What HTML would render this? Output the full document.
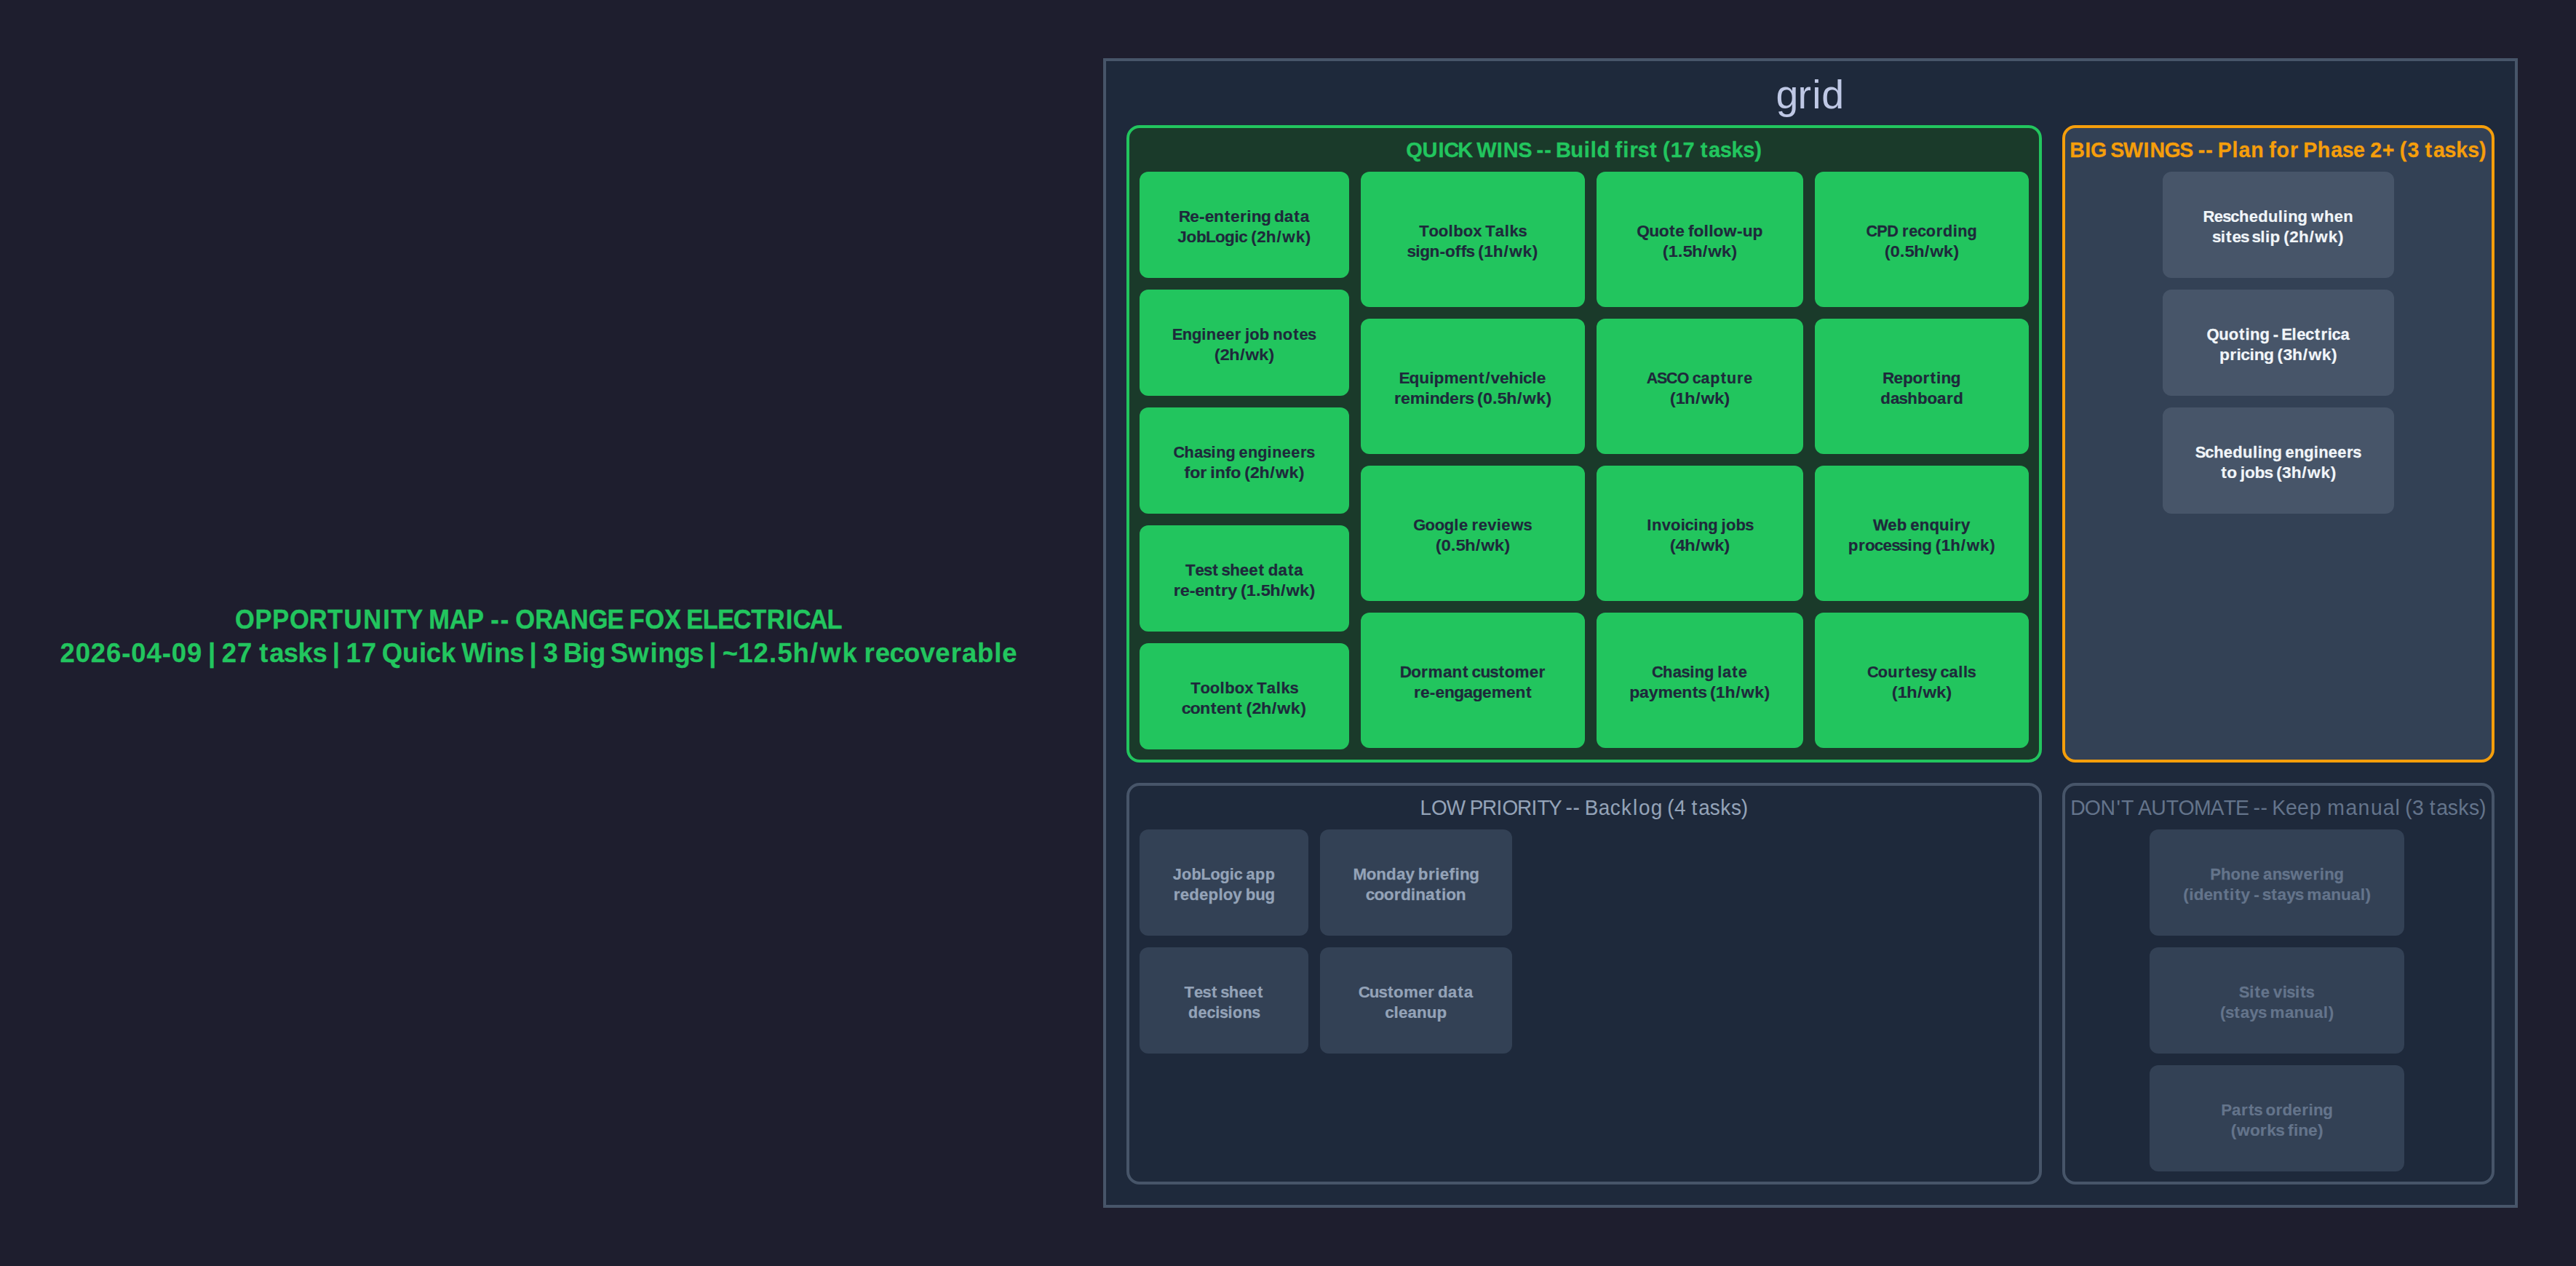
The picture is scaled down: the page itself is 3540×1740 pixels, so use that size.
<!DOCTYPE html>
<html><head><meta charset="utf-8"><title>Opportunity Map</title>
<style>
html,body{margin:0;padding:0;background:#1e1e2e;}
body{width:3540px;height:1740px;overflow:hidden;}
svg{display:block;}
text{font-family:"Liberation Sans", sans-serif;text-anchor:middle;font-kerning:none;}
</style></head><body>
<svg width="3540" height="1740" viewBox="0 0 3540 1740">
<rect x="0" y="0" width="3540" height="1740" fill="#1e1e2e"/>
<rect x="1518" y="82" width="1940" height="1576" fill="#1e293b" stroke="#475569" stroke-width="4"/>
<rect x="1550" y="174" width="1254" height="872" rx="16" ry="16" fill="#1a3a2a" stroke="#22c55e" stroke-width="4"/>
<rect x="1566" y="236" width="288" height="146" rx="12" ry="12" fill="#22c55e"/>
<rect x="1566" y="398" width="288" height="146" rx="12" ry="12" fill="#22c55e"/>
<rect x="1566" y="560" width="288" height="146" rx="12" ry="12" fill="#22c55e"/>
<rect x="1566" y="722" width="288" height="146" rx="12" ry="12" fill="#22c55e"/>
<rect x="1566" y="884" width="288" height="146" rx="12" ry="12" fill="#22c55e"/>
<rect x="1870" y="236" width="308" height="186" rx="12" ry="12" fill="#22c55e"/>
<rect x="1870" y="438" width="308" height="186" rx="12" ry="12" fill="#22c55e"/>
<rect x="1870" y="640" width="308" height="186" rx="12" ry="12" fill="#22c55e"/>
<rect x="1870" y="842" width="308" height="186" rx="12" ry="12" fill="#22c55e"/>
<rect x="2194" y="236" width="284" height="186" rx="12" ry="12" fill="#22c55e"/>
<rect x="2194" y="438" width="284" height="186" rx="12" ry="12" fill="#22c55e"/>
<rect x="2194" y="640" width="284" height="186" rx="12" ry="12" fill="#22c55e"/>
<rect x="2194" y="842" width="284" height="186" rx="12" ry="12" fill="#22c55e"/>
<rect x="2494" y="236" width="294" height="186" rx="12" ry="12" fill="#22c55e"/>
<rect x="2494" y="438" width="294" height="186" rx="12" ry="12" fill="#22c55e"/>
<rect x="2494" y="640" width="294" height="186" rx="12" ry="12" fill="#22c55e"/>
<rect x="2494" y="842" width="294" height="186" rx="12" ry="12" fill="#22c55e"/>
<rect x="2836" y="174" width="590" height="872" rx="16" ry="16" fill="#334155" stroke="#f59e0b" stroke-width="4"/>
<rect x="2972" y="236" width="318" height="146" rx="12" ry="12" fill="#475569"/>
<rect x="2972" y="398" width="318" height="146" rx="12" ry="12" fill="#475569"/>
<rect x="2972" y="560" width="318" height="146" rx="12" ry="12" fill="#475569"/>
<rect x="1550" y="1078" width="1254" height="548" rx="16" ry="16" fill="#1e293b" stroke="#475569" stroke-width="4"/>
<rect x="1566" y="1140" width="232" height="146" rx="12" ry="12" fill="#334155"/>
<rect x="1814" y="1140" width="264" height="146" rx="12" ry="12" fill="#334155"/>
<rect x="1566" y="1302" width="232" height="146" rx="12" ry="12" fill="#334155"/>
<rect x="1814" y="1302" width="264" height="146" rx="12" ry="12" fill="#334155"/>
<rect x="2836" y="1078" width="590" height="548" rx="16" ry="16" fill="#1e293b" stroke="#475569" stroke-width="4"/>
<rect x="2954" y="1140" width="350" height="146" rx="12" ry="12" fill="#334155"/>
<rect x="2954" y="1302" width="350" height="146" rx="12" ry="12" fill="#334155"/>
<rect x="2954" y="1464" width="350" height="146" rx="12" ry="12" fill="#334155"/>
<text transform="scale(1.0110,1)" x="2429.20 2452.76 2469.18 2491.37" y="149.00" font-size="54.88" font-weight="400" fill="#cdd6f4" fill-opacity="0.92">grid</text>
<text transform="scale(0.9524,1)" x="2040.57 2063.23 2079.46 2094.30 2114.39 2128.06 2145.08 2163.80 2180.02 2200.54 2213.24 2222.17 2233.32 2242.27 2255.79 2275.50 2289.67 2299.11 2313.55 2326.53 2335.62 2345.99 2357.31 2371.44 2385.32 2395.11 2404.25 2418.90 2436.64 2448.87 2458.66 2473.95 2490.25 2506.89 2523.55 2536.77" y="216.00" font-size="30.40" font-weight="700" fill="#22c55e" stroke="#22c55e" stroke-width="0.33" stroke-linejoin="round">QUICK WINS -- Build first (17 tasks)</text>
<text transform="scale(0.9931,1)" x="1639.32 1652.99 1663.26 1673.52 1686.69 1698.23 1709.12 1720.19 1728.33 1738.58 1751.95 1760.81 1770.15 1783.45 1794.44 1805.43" y="305.00" font-size="22.80" font-weight="700" fill="#1e293b" stroke="#1e293b" stroke-width="0.18" stroke-linejoin="round">Re-entering data</text>
<text transform="scale(0.9845,1)" x="1650.11 1663.07 1676.83 1690.13 1703.21 1716.47 1726.35 1735.42 1743.56 1750.19 1760.83 1774.22 1785.31 1798.90 1815.04 1825.91" y="333.00" font-size="22.80" font-weight="700" fill="#1e293b" stroke="#1e293b" stroke-width="0.16" stroke-linejoin="round">JobLogic (2h/wk)</text>
<text transform="scale(0.9605,1)" x="1684.48 1698.47 1712.29 1722.40 1733.00 1746.62 1759.56 1771.00 1778.47 1784.44 1794.85 1808.94 1818.60 1828.24 1842.32 1854.04 1865.30 1877.31" y="467.00" font-size="22.80" font-weight="700" fill="#1e293b" stroke="#1e293b" stroke-width="0.22" stroke-linejoin="round">Engineer job notes</text>
<text transform="scale(1.0544,1)" x="1586.47 1596.39 1608.90 1619.25 1631.95 1647.01 1657.16" y="495.00" font-size="22.80" font-weight="700" fill="#1e293b" stroke="#1e293b" stroke-width="0.01" stroke-linejoin="round">(2h/wk)</text>
<text transform="scale(0.9476,1)" x="1709.94 1724.54 1738.45 1750.73 1759.83 1770.57 1784.58 1793.87 1802.97 1816.78 1830.78 1841.04 1851.77 1865.58 1878.70 1890.30 1900.94" y="629.00" font-size="22.80" font-weight="700" fill="#1e293b" stroke="#1e293b" stroke-width="0.20" stroke-linejoin="round">Chasing engineers</text>
<text transform="scale(1.0118,1)" x="1612.42 1623.04 1634.35 1641.43 1647.08 1657.14 1667.97 1678.60 1687.55 1694.00 1704.35 1717.38 1728.17 1741.39 1757.09 1767.67" y="657.00" font-size="22.80" font-weight="700" fill="#1e293b" stroke="#1e293b" stroke-width="0.23" stroke-linejoin="round">for info (2h/wk)</text>
<text transform="scale(0.9750,1)" x="1677.67 1690.88 1702.71 1712.87 1720.05 1727.96 1740.45 1753.84 1766.59 1777.68 1784.85 1794.36 1807.90 1819.11 1830.31" y="791.00" font-size="22.80" font-weight="700" fill="#1e293b" stroke="#1e293b" stroke-width="0.27" stroke-linejoin="round">Test sheet data</text>
<text transform="scale(1.0321,1)" x="1567.11 1577.75 1587.63 1597.52 1610.20 1621.30 1630.38 1641.07 1649.45 1655.78 1665.91 1675.54 1685.17 1697.95 1708.53 1721.50 1736.89 1747.26" y="819.00" font-size="22.80" font-weight="700" fill="#1e293b" stroke="#1e293b" stroke-width="0.13" stroke-linejoin="round">re-entry (1.5h/wk)</text>
<text transform="scale(0.9636,1)" x="1704.94 1718.77 1732.59 1743.07 1753.77 1767.81 1781.12 1790.02 1799.43 1812.92 1823.05 1833.44 1845.78" y="953.00" font-size="22.80" font-weight="700" fill="#1e293b" stroke="#1e293b" stroke-width="0.24" stroke-linejoin="round">Toolbox Talks</text>
<text transform="scale(1.0193,1)" x="1599.46 1611.50 1624.77 1636.02 1646.62 1659.45 1670.70 1677.56 1683.96 1694.23 1707.17 1717.88 1731.01 1746.59 1757.10" y="981.00" font-size="22.80" font-weight="700" fill="#1e293b" stroke="#1e293b" stroke-width="0.16" stroke-linejoin="round">content (2h/wk)</text>
<text transform="scale(0.9636,1)" x="2030.81 2044.65 2058.46 2068.94 2079.64 2093.68 2107.00 2115.89 2125.30 2138.80 2148.92 2159.31 2171.65" y="325.00" font-size="22.80" font-weight="700" fill="#1e293b" stroke="#1e293b" stroke-width="0.24" stroke-linejoin="round">Toolbox Talks</text>
<text transform="scale(0.9888,1)" x="1961.84 1970.56 1980.39 1993.81 2004.79 2015.55 2026.27 2034.25 2043.61 2051.42 2058.01 2068.59 2081.93 2092.98 2106.51 2122.58 2133.41" y="353.00" font-size="22.80" font-weight="700" fill="#1e293b" stroke="#1e293b" stroke-width="0.20" stroke-linejoin="round">sign-offs (1h/wk)</text>
<text transform="scale(0.9968,1)" x="1936.28 1949.77 1963.51 1973.67 1983.89 2001.10 2017.66 2030.78 2042.27 2050.96 2061.34 2073.87 2086.98 2097.17 2106.13 2115.21 2124.89" y="527.00" font-size="22.80" font-weight="700" fill="#1e293b" stroke="#1e293b" stroke-width="0.16" stroke-linejoin="round">Equipment/vehicle</text>
<text transform="scale(1.0122,1)" x="1897.28 1908.13 1924.43 1937.87 1947.92 1961.49 1974.42 1985.28 1995.26 2002.88 2009.33 2019.66 2029.48 2039.30 2052.33 2063.12 2076.34 2092.04 2102.61" y="555.00" font-size="22.80" font-weight="700" fill="#1e293b" stroke="#1e293b" stroke-width="0.18" stroke-linejoin="round">reminders (0.5h/wk)</text>
<text transform="scale(0.9596,1)" x="2032.94 2047.86 2061.74 2075.36 2085.62 2095.67 2104.65 2112.13 2123.58 2136.60 2146.59 2156.52 2172.71 2187.95" y="729.00" font-size="22.80" font-weight="700" fill="#1e293b" stroke="#1e293b" stroke-width="0.19" stroke-linejoin="round">Google reviews</text>
<text transform="scale(1.0524,1)" x="1878.31 1888.25 1897.70 1907.14 1919.67 1930.04 1942.75 1957.85 1968.02" y="757.00" font-size="22.80" font-weight="700" fill="#1e293b" stroke="#1e293b" stroke-width="0.01" stroke-linejoin="round">(0.5h/wk)</text>
<text transform="scale(0.9847,1)" x="1961.79 1976.29 1987.90 2003.20 2020.06 2033.45 2045.09 2052.20 2060.34 2072.96 2085.28 2095.35 2106.78 2123.98 2140.74 2151.90" y="931.00" font-size="22.80" font-weight="700" fill="#1e293b" stroke="#1e293b" stroke-width="0.26" stroke-linejoin="round">Dormant customer</text>
<text transform="scale(0.9958,1)" x="1955.67 1966.70 1976.94 1987.19 2000.33 2013.66 2026.44 2039.23 2051.91 2068.48 2085.05 2098.18 2109.69" y="959.00" font-size="22.80" font-weight="700" fill="#1e293b" stroke="#1e293b" stroke-width="0.21" stroke-linejoin="round">re-engagement</text>
<text transform="scale(0.9933,1)" x="2273.32 2288.45 2302.01 2313.34 2324.22 2332.90 2339.44 2350.26 2360.42 2367.33 2377.49 2393.57 2406.95 2417.83 2431.62" y="325.00" font-size="22.80" font-weight="700" fill="#1e293b" stroke="#1e293b" stroke-width="0.23" stroke-linejoin="round">Quote follow-up</text>
<text transform="scale(1.0524,1)" x="2174.77 2184.71 2194.15 2203.60 2216.13 2226.50 2239.20 2254.30 2264.47" y="353.00" font-size="22.80" font-weight="700" fill="#1e293b" stroke="#1e293b" stroke-width="0.03" stroke-linejoin="round">(1.5h/wk)</text>
<text transform="scale(0.9364,1)" x="2424.78 2439.25 2453.83 2470.05 2481.37 2489.93 2502.69 2516.79 2529.04 2541.23 2553.61 2565.35" y="527.00" font-size="22.80" font-weight="700" fill="#1e293b" stroke="#1e293b" stroke-width="0.22" stroke-linejoin="round">ASCO capture</text>
<text transform="scale(1.0544,1)" x="2180.18 2190.11 2202.61 2212.97 2225.67 2240.73 2250.88" y="555.00" font-size="22.80" font-weight="700" fill="#1e293b" stroke="#1e293b" stroke-width="0.04" stroke-linejoin="round">(1h/wk)</text>
<text transform="scale(0.9593,1)" x="2362.36 2373.27 2386.97 2400.46 2410.85 2420.16 2429.47 2440.08 2453.92 2463.09 2469.07 2479.49 2493.60 2506.32" y="729.00" font-size="22.80" font-weight="700" fill="#1e293b" stroke="#1e293b" stroke-width="0.20" stroke-linejoin="round">Invoicing jobs</text>
<text transform="scale(1.0544,1)" x="2180.18 2190.11 2202.61 2212.97 2225.67 2240.73 2250.88" y="757.00" font-size="22.80" font-weight="700" fill="#1e293b" stroke="#1e293b" stroke-width="0.08" stroke-linejoin="round">(4h/wk)</text>
<text transform="scale(0.9594,1)" x="2374.31 2388.73 2402.47 2414.60 2423.59 2434.20 2448.03 2457.21 2463.29 2473.46 2484.84 2496.11" y="931.00" font-size="22.80" font-weight="700" fill="#1e293b" stroke="#1e293b" stroke-width="0.25" stroke-linejoin="round">Chasing late</text>
<text transform="scale(1.0091,1)" x="2226.05 2239.12 2251.58 2267.97 2284.32 2297.28 2308.64 2318.46 2326.11 2332.57 2342.94 2356.01 2366.83 2380.09 2395.84 2406.45" y="959.00" font-size="22.80" font-weight="700" fill="#1e293b" stroke="#1e293b" stroke-width="0.17" stroke-linejoin="round">payments (1h/wk)</text>
<text transform="scale(0.9480,1)" x="2713.31 2728.21 2743.80 2754.36 2761.93 2773.53 2786.01 2798.96 2811.02 2823.31 2834.06 2844.80 2858.80" y="325.00" font-size="22.80" font-weight="700" fill="#1e293b" stroke="#1e293b" stroke-width="0.25" stroke-linejoin="round">CPD recording</text>
<text transform="scale(1.0524,1)" x="2464.58 2474.52 2483.96 2493.40 2505.93 2516.30 2529.01 2544.11 2554.28" y="353.00" font-size="22.80" font-weight="700" fill="#1e293b" stroke="#1e293b" stroke-width="0.01" stroke-linejoin="round">(0.5h/wk)</text>
<text transform="scale(0.9859,1)" x="2632.30 2646.06 2659.34 2673.07 2684.67 2694.18 2702.20 2712.51 2725.98" y="527.00" font-size="22.80" font-weight="700" fill="#1e293b" stroke="#1e293b" stroke-width="0.23" stroke-linejoin="round">Reporting</text>
<text transform="scale(0.9761,1)" x="2654.40 2667.92 2679.84 2692.31 2706.38 2720.24 2733.54 2744.91 2756.85" y="555.00" font-size="22.80" font-weight="700" fill="#1e293b" stroke="#1e293b" stroke-width="0.24" stroke-linejoin="round">dashboard</text>
<text transform="scale(0.9702,1)" x="2663.77 2680.23 2693.72 2703.28 2712.16 2725.64 2739.81 2753.92 2764.36 2772.69 2784.06" y="729.00" font-size="22.80" font-weight="700" fill="#1e293b" stroke="#1e293b" stroke-width="0.30" stroke-linejoin="round">Web enquiry</text>
<text transform="scale(0.9797,1)" x="2599.40 2611.29 2622.96 2635.49 2647.57 2659.34 2670.19 2679.00 2689.38 2702.93 2711.93 2718.58 2729.26 2742.72 2753.87 2767.53 2783.75 2794.67" y="757.00" font-size="22.80" font-weight="700" fill="#1e293b" stroke="#1e293b" stroke-width="0.18" stroke-linejoin="round">processing (1h/wk)</text>
<text transform="scale(0.9513,1)" x="2705.58 2719.92 2734.08 2746.27 2756.12 2767.49 2779.61 2791.77 2800.86 2809.29 2821.84 2832.10 2839.31 2848.50" y="931.00" font-size="22.80" font-weight="700" fill="#1e293b" stroke="#1e293b" stroke-width="0.25" stroke-linejoin="round">Courtesy calls</text>
<text transform="scale(1.0544,1)" x="2469.46 2479.38 2491.89 2502.24 2514.94 2530.00 2540.15" y="959.00" font-size="22.80" font-weight="700" fill="#1e293b" stroke="#1e293b" stroke-width="0.05" stroke-linejoin="round">(1h/wk)</text>
<text transform="scale(0.9397,1)" x="3037.84 3053.26 3069.25 3083.52 3096.39 3119.70 3138.66 3155.11 3177.30 3197.64 3210.51 3219.56 3230.87 3239.93 3253.48 3268.50 3282.34 3301.06 3314.20 3323.41 3338.67 3354.90 3365.08 3378.63 3398.51 3417.20 3433.72 3450.09 3462.31 3474.70 3492.69 3505.08 3514.34 3529.19 3541.58 3551.51 3567.01 3583.53 3600.40 3617.27 3630.67" y="216.00" font-size="30.40" font-weight="700" fill="#f59e0b" stroke="#f59e0b" stroke-width="0.27" stroke-linejoin="round">BIG SWINGS -- Plan for Phase 2+ (3 tasks)</text>
<text transform="scale(0.9615,1)" x="3156.87 3170.98 3182.97 3194.34 3207.31 3220.90 3234.52 3248.75 3259.41 3266.43 3277.01 3290.81 3299.97 3312.15 3328.96 3342.55 3356.16" y="305.00" font-size="22.80" font-weight="700" fill="#f1f5f9" stroke="#f1f5f9" stroke-width="0.23" stroke-linejoin="round">Rescheduling when</text>
<text transform="scale(0.9854,1)" x="3091.47 3100.22 3108.25 3119.22 3130.92 3138.75 3146.58 3155.46 3162.30 3172.64 3182.05 3188.68 3199.30 3212.68 3223.77 3237.35 3253.46 3264.33" y="333.00" font-size="22.80" font-weight="700" fill="#f1f5f9" stroke="#f1f5f9" stroke-width="0.20" stroke-linejoin="round">sites slip (2h/wk)</text>
<text transform="scale(0.9681,1)" x="3141.22 3156.74 3170.66 3182.28 3190.44 3200.96 3214.67 3223.76 3230.36 3236.95 3246.22 3256.56 3266.52 3278.75 3289.30 3298.98 3307.33 3316.55 3328.89" y="467.00" font-size="22.80" font-weight="700" fill="#f1f5f9" stroke="#f1f5f9" stroke-width="0.26" stroke-linejoin="round">Quoting - Electrica</text>
<text transform="scale(1.0066,1)" x="3036.96 3048.53 3056.56 3065.43 3074.30 3084.41 3097.59 3106.34 3112.83 3123.23 3136.33 3147.18 3160.47 3176.25 3186.89" y="495.00" font-size="22.80" font-weight="700" fill="#f1f5f9" stroke="#f1f5f9" stroke-width="0.16" stroke-linejoin="round">pricing (3h/wk)</text>
<text transform="scale(0.9595,1)" x="3151.80 3164.60 3177.59 3191.21 3204.86 3219.13 3229.82 3236.84 3247.44 3261.28 3270.46 3279.44 3293.08 3306.90 3317.03 3327.64 3341.27 3354.23 3365.68 3376.20" y="629.00" font-size="22.80" font-weight="700" fill="#f1f5f9" stroke="#f1f5f9" stroke-width="0.28" stroke-linejoin="round">Scheduling engineers</text>
<text transform="scale(0.9981,1)" x="3061.77 3073.04 3082.11 3087.86 3097.88 3111.44 3123.66 3131.39 3137.93 3148.41 3161.62 3172.56 3185.97 3201.89 3212.62" y="657.00" font-size="22.80" font-weight="700" fill="#f1f5f9" stroke="#f1f5f9" stroke-width="0.19" stroke-linejoin="round">to jobs (3h/wk)</text>
<text transform="scale(0.9170,1)" x="2136.68 2156.75 2182.04 2199.24 2212.61 2232.42 2246.93 2263.10 2284.61 2299.13 2313.08 2330.74 2342.53 2351.44 2362.29 2371.21 2384.96 2404.01 2420.76 2437.36 2450.44 2464.35 2482.60 2494.88 2503.66 2517.61 2529.78 2539.17 2553.85 2569.95 2585.90 2601.85 2614.45" y="1120.00" font-size="30.40" font-weight="400" fill="#94a3b8" stroke="#94a3b8" stroke-width="0.10" stroke-linejoin="round">LOW PRIORITY -- Backlog (4 tasks)</text>
<text transform="scale(0.9492,1)" x="1704.35 1717.80 1732.06 1745.86 1759.42 1773.18 1783.42 1792.83 1801.27 1810.47 1824.38 1838.86" y="1209.00" font-size="22.80" font-weight="700" fill="#94a3b8" stroke="#94a3b8" stroke-width="0.24" stroke-linejoin="round">JobLogic app</text>
<text transform="scale(0.9753,1)" x="1657.93 1669.20 1682.62 1696.05 1709.47 1720.04 1730.39 1743.62 1752.50 1762.01 1776.05 1789.60" y="1237.00" font-size="22.80" font-weight="700" fill="#94a3b8" stroke="#94a3b8" stroke-width="0.26" stroke-linejoin="round">redeploy bug</text>
<text transform="scale(0.9813,1)" x="1904.46 1920.56 1934.34 1948.34 1961.80 1974.62 1983.43 1992.88 2004.75 2012.99 2022.71 2033.22 2040.76 2051.13 2064.66" y="1209.00" font-size="22.80" font-weight="700" fill="#94a3b8" stroke="#94a3b8" stroke-width="0.25" stroke-linejoin="round">Monday briefing</text>
<text transform="scale(0.9927,1)" x="1896.99 1909.35 1922.77 1934.29 1946.03 1956.30 1966.54 1979.83 1990.83 1998.80 2008.84 2022.46" y="1237.00" font-size="22.80" font-weight="700" fill="#94a3b8" stroke="#94a3b8" stroke-width="0.26" stroke-linejoin="round">coordination</text>
<text transform="scale(0.9647,1)" x="1694.04 1707.40 1719.35 1729.63 1736.88 1744.88 1757.49 1771.03 1783.92 1795.13" y="1371.00" font-size="22.80" font-weight="700" fill="#94a3b8" stroke="#94a3b8" stroke-width="0.22" stroke-linejoin="round">Test sheet</text>
<text transform="scale(0.9412,1)" x="1741.87 1755.77 1768.34 1777.82 1786.99 1796.15 1806.75 1821.12 1834.06" y="1399.00" font-size="22.80" font-weight="700" fill="#94a3b8" stroke="#94a3b8" stroke-width="0.28" stroke-linejoin="round">decisions</text>
<text transform="scale(0.9794,1)" x="1914.26 1928.35 1940.74 1950.86 1962.35 1979.65 1996.49 2007.72 2015.05 2024.53 2038.00 2049.15 2060.30" y="1371.00" font-size="22.80" font-weight="700" fill="#94a3b8" stroke="#94a3b8" stroke-width="0.21" stroke-linejoin="round">Customer data</text>
<text transform="scale(0.9784,1)" x="1951.60 1960.85 1970.71 1983.52 1997.00 2010.98 2024.98" y="1399.00" font-size="22.80" font-weight="700" fill="#94a3b8" stroke="#94a3b8" stroke-width="0.25" stroke-linejoin="round">cleanup</text>
<text transform="scale(0.9351,1)" x="3053.59 3075.47 3097.91 3113.24 3126.67 3139.26 3151.97 3172.30 3192.51 3213.04 3236.85 3258.58 3277.04 3295.23 3307.66 3316.40 3327.05 3335.79 3349.13 3367.52 3384.49 3402.47 3415.40 3433.00 3455.81 3473.80 3492.46 3510.39 3523.38 3531.16 3539.78 3553.46 3565.38 3574.59 3588.99 3604.79 3620.43 3636.07 3648.42" y="1120.00" font-size="30.40" font-weight="400" fill="#64748b" stroke="#64748b" stroke-width="0.03" stroke-linejoin="round">DON&#39;T AUTOMATE -- Keep manual (3 tasks)</text>
<text transform="scale(0.9699,1)" x="3139.24 3153.68 3167.60 3181.55 3195.04 3203.92 3212.91 3226.51 3239.07 3254.15 3270.16 3281.50 3289.83 3300.33 3314.02" y="1209.00" font-size="22.80" font-weight="700" fill="#64748b" stroke="#64748b" stroke-width="0.26" stroke-linejoin="round">Phone answering</text>
<text transform="scale(0.9910,1)" x="3031.25 3038.75 3049.03 3062.25 3075.45 3087.00 3094.98 3102.97 3113.92 3122.65 3129.09 3135.53 3143.32 3153.32 3164.34 3177.03 3188.70 3196.49 3209.29 3226.05 3239.36 3253.16 3266.42 3276.27 3283.89" y="1237.00" font-size="22.80" font-weight="700" fill="#64748b" stroke="#64748b" stroke-width="0.23" stroke-linejoin="round">(identity - stays manual)</text>
<text transform="scale(0.9643,1)" x="3198.40 3208.74 3216.94 3228.15 3237.09 3246.09 3256.03 3264.97 3273.92 3282.12 3292.40" y="1371.00" font-size="22.80" font-weight="700" fill="#64748b" stroke="#64748b" stroke-width="0.26" stroke-linejoin="round">Site visits</text>
<text transform="scale(0.9835,1)" x="3105.99 3115.58 3125.66 3136.77 3149.55 3161.31 3169.16 3182.06 3198.94 3212.35 3226.26 3239.62 3249.55 3257.24" y="1399.00" font-size="22.80" font-weight="700" fill="#64748b" stroke="#64748b" stroke-width="0.16" stroke-linejoin="round">(stays manual)</text>
<text transform="scale(0.9812,1)" x="3118.35 3132.08 3143.39 3152.95 3163.04 3170.91 3180.15 3191.79 3203.67 3217.02 3228.22 3236.47 3246.84 3260.36" y="1533.00" font-size="22.80" font-weight="700" fill="#64748b" stroke="#64748b" stroke-width="0.18" stroke-linejoin="round">Parts ordering</text>
<text transform="scale(0.9970,1)" x="3078.66 3092.14 3108.16 3119.63 3131.01 3142.94 3150.68 3157.20 3164.62 3174.83 3187.94 3198.32" y="1561.00" font-size="22.80" font-weight="700" fill="#64748b" stroke="#64748b" stroke-width="0.21" stroke-linejoin="round">(works fine)</text>
<text transform="scale(0.9244,1)" x="363.77 391.46 417.25 444.94 473.00 498.30 524.72 553.49 574.39 592.93 616.31 632.00 652.82 681.70 707.00 724.22 735.73 750.10 761.61 780.74 808.80 834.46 861.24 889.44 915.09 931.27 946.94 973.08 1000.14 1016.73 1032.92 1055.98 1079.05 1103.50 1128.12 1153.42 1173.19 1192.29 1217.28 1240.89" y="864.00" font-size="37.20" font-weight="700" fill="#22c55e" stroke="#22c55e" stroke-width="0.42" stroke-linejoin="round">OPPORTUNITY MAP -- ORANGE FOX ELECTRICAL</text>
<text transform="scale(0.9795,1)" x="94.66 116.22 137.79 159.35 176.90 194.47 216.03 233.58 251.15 272.71 287.58 297.14 306.69 321.56 343.12 357.98 369.89 388.47 408.28 428.51 448.75 461.88 471.43 480.99 495.85 517.41 532.27 550.32 575.89 593.12 608.32 629.06 644.34 665.02 687.26 704.57 725.30 738.43 747.98 757.54 772.40 787.27 803.71 821.70 838.23 853.22 868.66 895.86 917.34 934.66 957.24 977.18 990.31 999.87 1009.42 1024.29 1045.86 1067.42 1084.32 1101.23 1123.67 1142.26 1165.02 1192.05 1207.33 1219.54 1238.24 1258.38 1279.27 1301.28 1322.54 1341.24 1360.13 1382.59 1400.13 1416.54" y="910.00" font-size="37.20" font-weight="700" fill="#22c55e" stroke="#22c55e" stroke-width="0.28" stroke-linejoin="round">2026-04-09 | 27 tasks | 17 Quick Wins | 3 Big Swings | ~12.5h/wk recoverable</text>
</svg>
</body></html>
